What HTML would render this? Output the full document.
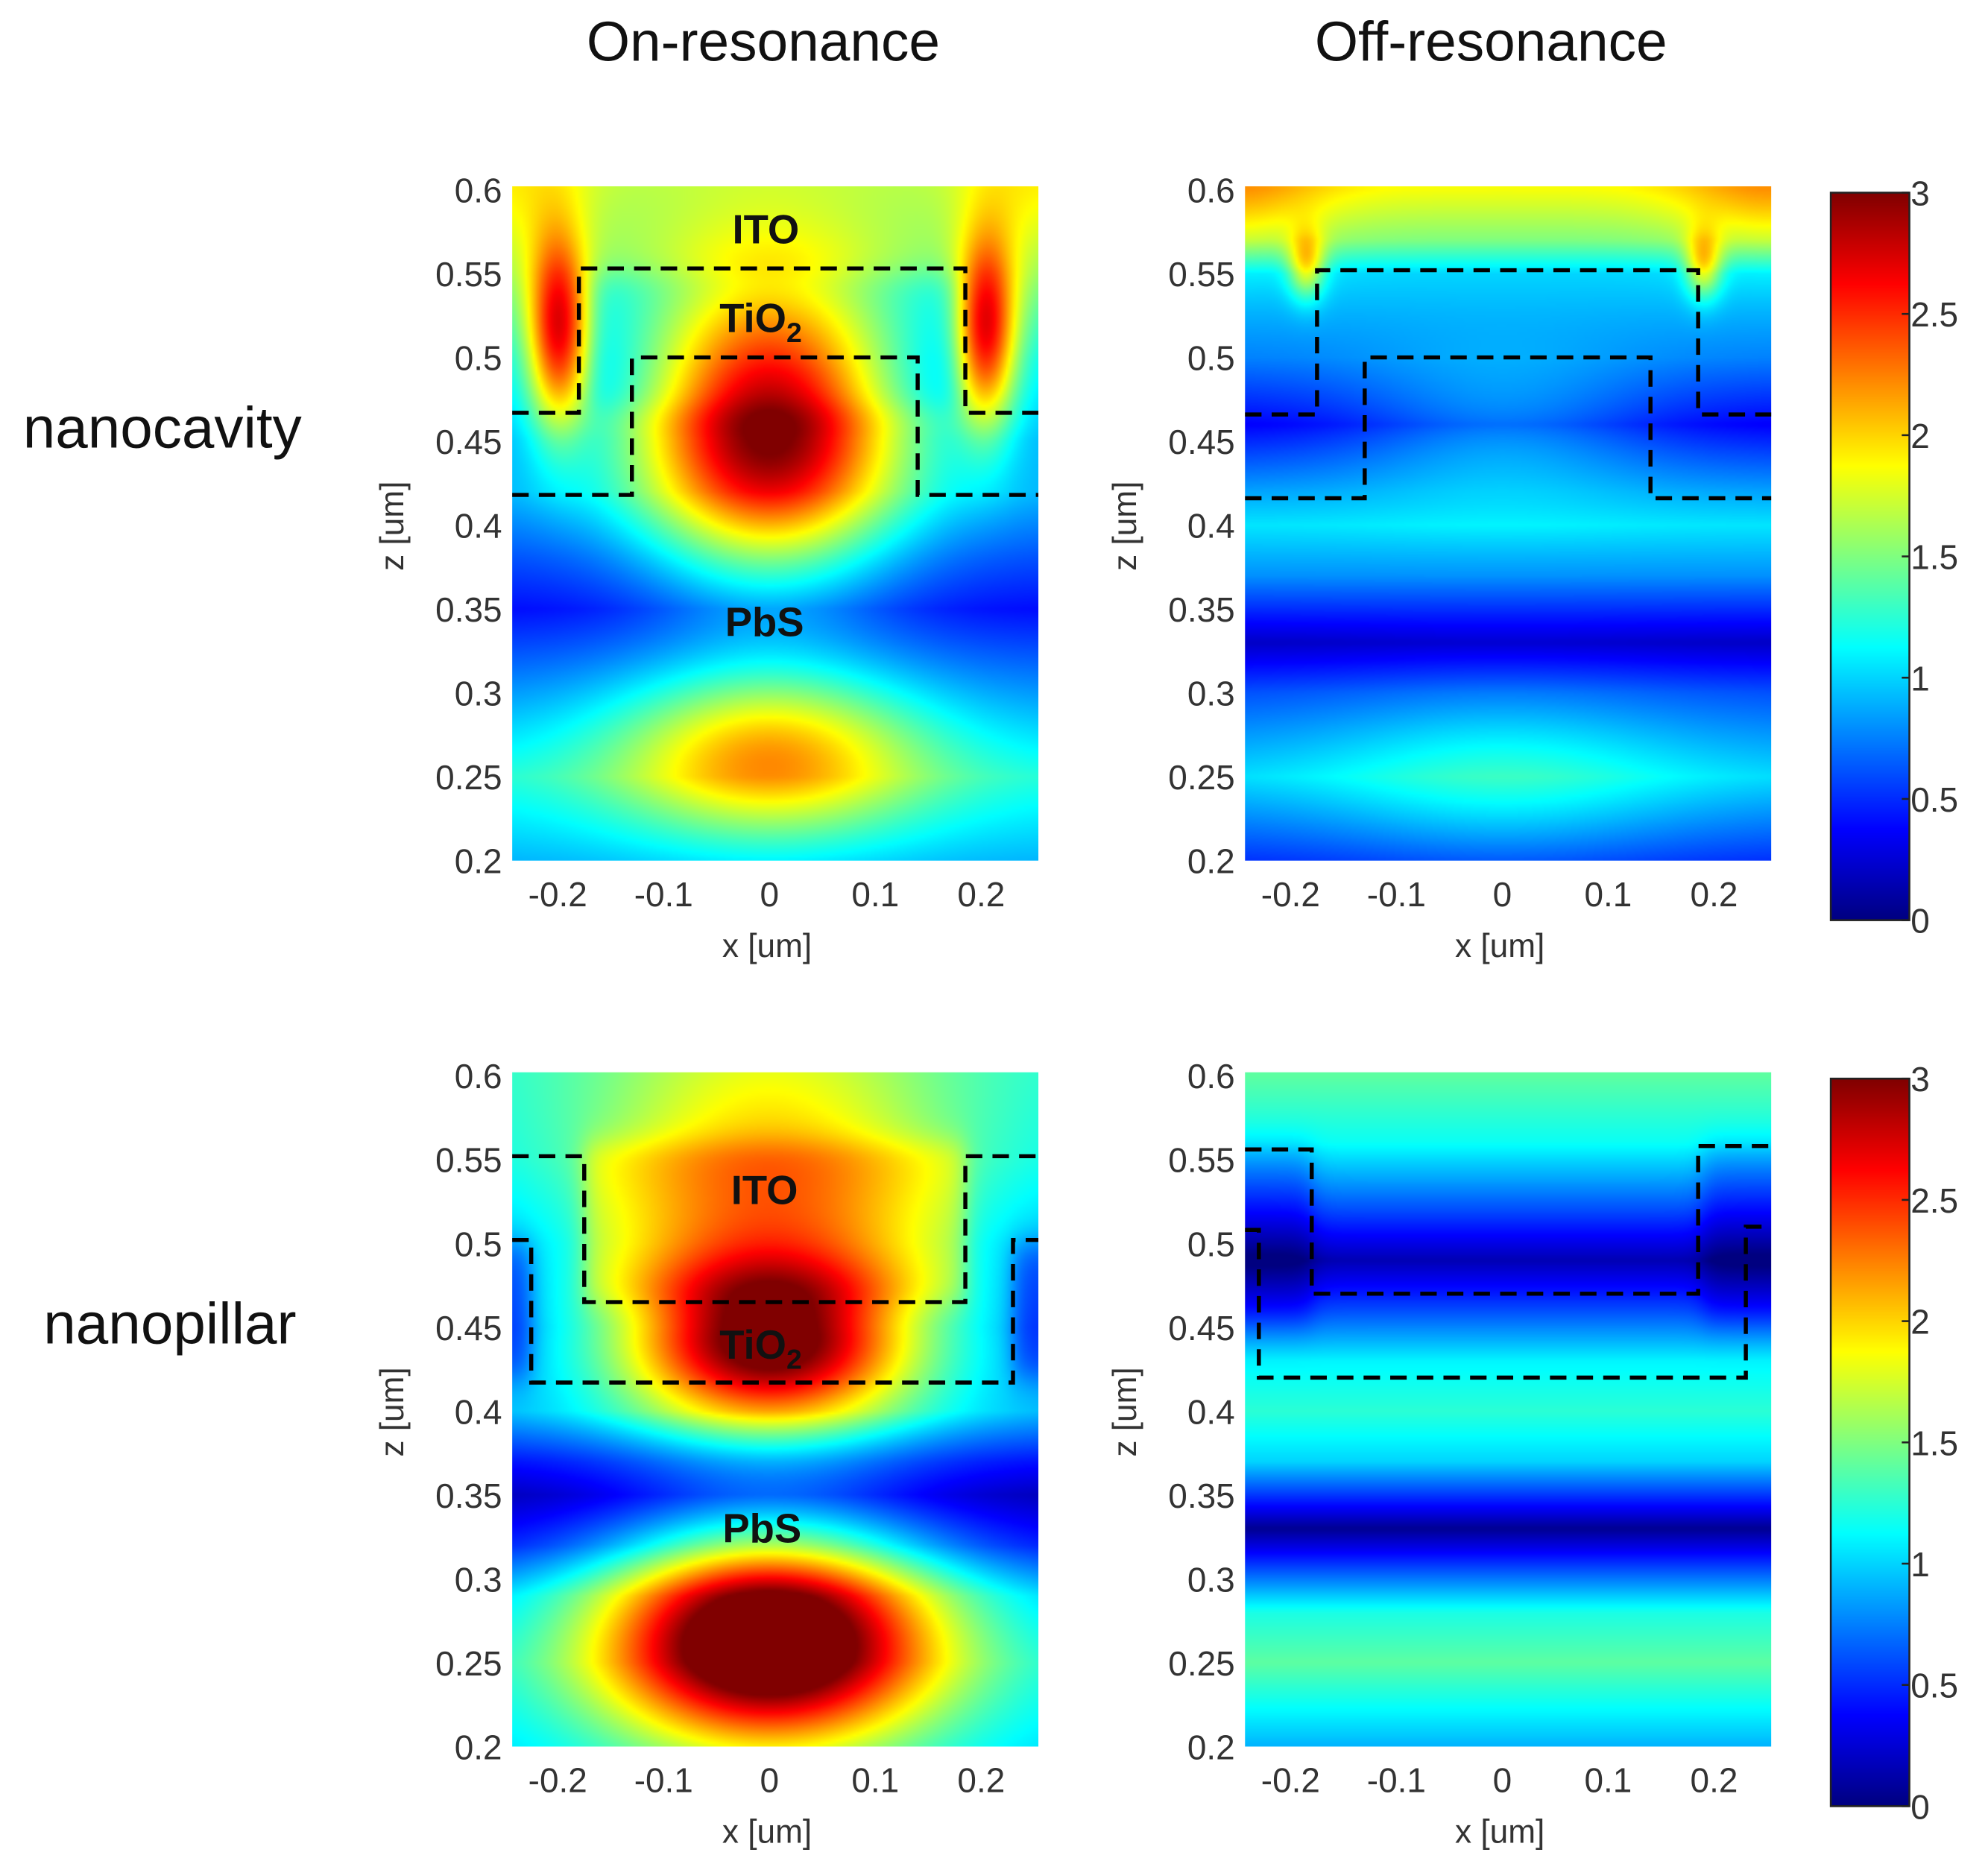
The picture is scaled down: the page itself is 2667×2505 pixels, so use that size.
<!DOCTYPE html>
<html><head><meta charset="utf-8"><style>
html,body{margin:0;padding:0;background:#fff;}
#root{position:absolute;left:0;top:0;width:1568px;height:1473px;transform:scale(1.70089,1.70061);transform-origin:0 0;font-family:"Liberation Sans",sans-serif;}
canvas{position:absolute;}
svg{position:absolute;left:0;top:0;}
</style></head><body>
<div id="root">
<canvas id="h0" width="208" height="266" style="left:404px;top:147px;width:415px;height:532px"></canvas>
<canvas id="h1" width="208" height="266" style="left:982px;top:147px;width:415px;height:532px"></canvas>
<canvas id="h2" width="208" height="266" style="left:404px;top:846px;width:415px;height:532px"></canvas>
<canvas id="h3" width="208" height="266" style="left:982px;top:846px;width:415px;height:532px"></canvas>
<canvas id="cb0" width="10" height="300" style="left:1444px;top:152px;width:62px;height:574px"></canvas>
<canvas id="cb1" width="10" height="300" style="left:1444px;top:851px;width:62px;height:574px"></canvas>
<svg id="ov" width="1568" height="1473" viewBox="0 0 1568 1473">
<text x="602" y="48" font-size="44" text-anchor="middle" fill="#111">On-resonance</text>
<text x="1176" y="48" font-size="44" text-anchor="middle" fill="#111">Off-resonance</text>
<text x="128" y="353" font-size="46" text-anchor="middle" fill="#111">nanocavity</text>
<text x="134" y="1060" font-size="46" text-anchor="middle" fill="#111">nanopillar</text>
<g font-weight="bold" font-size="32" text-anchor="middle" fill="#111">
<text x="604" y="192">ITO</text>
<text x="600" y="262">TiO<tspan font-size="22" dy="8">2</tspan></text>
<text x="603" y="502">PbS</text>
<text x="603" y="950">ITO</text>
<text x="600" y="1072">TiO<tspan font-size="22" dy="8">2</tspan></text>
<text x="601" y="1217">PbS</text>
</g>
</svg>
</div>
<script>
// axis ranges
const xMin=-0.243, xMax=0.254, zMin=0.2, zMax=0.602;
const xTicks=[-0.2,-0.1,0,0.1,0.2];
const xTickLabels=["-0.2","-0.1","0","0.1","0.2"];
const zTicks=[0.6,0.55,0.5,0.45,0.4,0.35,0.3,0.25,0.2];
const zTickLabels=["0.6","0.55","0.5","0.45","0.4","0.35","0.3","0.25","0.2"];
const cbTicks=[0,0.5,1,1.5,2,2.5,3];
const cbTickLabels=["0","0.5","1","1.5","2","2.5","3"];
// panel field data: base profile (z, value), gaussian blobs [amp,cx,cz,sx,sz], boxes [amp,x0,x1,z0,z1]
const baseZ0=[0.6,0.55,0.5,0.45,0.42,0.38,0.35,0.3,0.25,0.2];
const baseV0=[1.6,1.4,1.1,0.9,0.9,0.6,0.4,0.8,1.2,0.9];
const blobs0=[[2.2,0,0.46,0.085,0.06],[1.1,0,0.265,0.1,0.035],[1.4,-0.2,0.515,0.02,0.04],[1.4,0.205,0.515,0.02,0.04],[0.3,-0.24,0.6,0.05,0.04],[0.3,0.25,0.6,0.05,0.04]];
const boxes0=[[-0.35,-0.17,0.18,0.47,0.55]];
const baseZ1=[0.6,0.57,0.55,0.5,0.46,0.42,0.4,0.37,0.33,0.3,0.25,0.2];
const baseV1=[1.85,1.5,1.0,0.75,0.35,0.85,1.05,0.8,0.2,0.6,1.0,0.5];
const blobs1=[[0.35,0,0.46,0.1,0.03],[0.8,-0.185,0.555,0.012,0.014],[0.8,0.19,0.555,0.012,0.014],[0.35,-0.25,0.6,0.06,0.03],[0.35,0.25,0.6,0.06,0.03],[0.3,0,0.25,0.12,0.04]];
const boxes1=[];
const baseZ2=[0.6,0.55,0.5,0.45,0.4,0.37,0.35,0.32,0.29,0.25,0.2];
const baseV2=[1.2,1.1,0.9,0.8,0.9,0.4,0.15,0.4,0.9,1.1,1.0];
const blobs2=[[0.9,0,0.54,0.12,0.07],[2.1,0,0.44,0.095,0.035],[2.6,0,0.265,0.11,0.045]];
const boxes2=[[0.4,-0.175,0.185,0.465,0.56],[-0.4,-0.26,-0.225,0.42,0.5],[-0.4,0.23,0.27,0.42,0.5]];
const baseZ3=[0.6,0.56,0.52,0.49,0.46,0.43,0.4,0.37,0.34,0.33,0.31,0.28,0.25,0.2];
const baseV3=[1.4,1.15,0.6,0.15,0.6,1.1,1.25,1.0,0.3,0.05,0.5,1.2,1.4,0.9];
const blobs3=[];
const boxes3=[[-0.2,-0.3,-0.18,0.45,0.56],[-0.2,0.19,0.3,0.45,0.56]];
// dashed structure outlines (data coords)
const paths0=[[[-0.243,0.467],[-0.18,0.467],[-0.18,0.553],[0.185,0.553],[0.185,0.467],[0.254,0.467]],[[-0.243,0.418],[-0.13,0.418],[-0.13,0.5],[0.14,0.5],[0.14,0.418],[0.254,0.418]]];
const paths1=[[[-0.243,0.466],[-0.175,0.466],[-0.175,0.552],[0.185,0.552],[0.185,0.466],[0.254,0.466]],[[-0.243,0.416],[-0.13,0.416],[-0.13,0.5],[0.14,0.5],[0.14,0.416],[0.254,0.416]]];
const paths2=[[[-0.243,0.552],[-0.175,0.552],[-0.175,0.465],[0.185,0.465],[0.185,0.552],[0.254,0.552]],[[-0.243,0.502],[-0.225,0.502],[-0.225,0.417],[0.23,0.417],[0.23,0.502],[0.254,0.502]]];
const paths3=[[[-0.243,0.556],[-0.18,0.556],[-0.18,0.47],[0.185,0.47],[0.185,0.558],[0.254,0.558]],[[-0.243,0.508],[-0.23,0.508],[-0.23,0.42],[0.23,0.42],[0.23,0.51],[0.254,0.51]]];

const panels=[
 {id:'h0',L:404,T:147,bz:baseZ0,bv:baseV0,bl:blobs0,bx:boxes0,p:paths0},
 {id:'h1',L:982,T:147,bz:baseZ1,bv:baseV1,bl:blobs1,bx:boxes1,p:paths1},
 {id:'h2',L:404,T:846,bz:baseZ2,bv:baseV2,bl:blobs2,bx:boxes2,p:paths2},
 {id:'h3',L:982,T:846,bz:baseZ3,bv:baseV3,bl:blobs3,bx:boxes3,p:paths3}];
const W=415,H=532;
function jet(v){let t=Math.max(0,Math.min(1,v/3));const c=a=>Math.round(255*Math.max(0,Math.min(1,1.5-Math.abs(4*t-a))));return [c(3),c(2),c(1)];}
function base(zs,vs,z){for(let i=0;i<zs.length-1;i++){if(z<=zs[i]&&z>=zs[i+1]){const f=(zs[i]-z)/(zs[i]-zs[i+1]);return vs[i]+(vs[i+1]-vs[i])*f;}}return z>zs[0]?vs[0]:vs[vs.length-1];}
function sig(u){return 1/(1+Math.exp(-u));}
function field(P,x,z){let v=base(P.bz,P.bv,z);
 for(const b of P.bl){v+=b[0]*Math.exp(-((x-b[1])**2/(2*b[3]*b[3])+(z-b[2])**2/(2*b[4]*b[4])));}
 for(const b of P.bx){const s=0.006;v+=b[0]*sig((x-b[1])/s)*sig((b[2]-x)/s)*sig((z-b[3])/s)*sig((b[4]-z)/s);}
 return v;}
const sx=x=>(x-xMin)/(xMax-xMin)*W, sz=z=>(zMax-z)/(zMax-zMin)*H;
const NS='http://www.w3.org/2000/svg', ov=document.getElementById('ov');
function mk(tag,attrs){const e=document.createElementNS(NS,tag);for(const k in attrs)e.setAttribute(k,attrs[k]);ov.appendChild(e);return e;}
for(const P of panels){
 const cv=document.getElementById(P.id),ctx=cv.getContext('2d'),img=ctx.createImageData(cv.width,cv.height);
 for(let j=0;j<cv.height;j++)for(let i=0;i<cv.width;i++){
  const x=xMin+(i+0.5)/cv.width*(xMax-xMin), z=zMax-(j+0.5)/cv.height*(zMax-zMin);
  const c=jet(field(P,x,z)),k=(j*cv.width+i)*4;img.data[k]=c[0];img.data[k+1]=c[1];img.data[k+2]=c[2];img.data[k+3]=255;}
 ctx.putImageData(img,0,0);
 for(const pth of P.p){
  const d=pth.map((q,i)=>(i?'L':'M')+(P.L+sx(q[0])).toFixed(1)+' '+(P.T+sz(q[1])).toFixed(1)).join(' ');
  const e=mk('path',{d:d,fill:'none',stroke:'#000','stroke-width':3.2,'stroke-dasharray':'13 8'});
  
  
 }
 xTicks.forEach((t,i)=>{const e=mk('text',{x:P.L+sx(t),y:P.T+H+36,'font-size':27,'text-anchor':'middle',fill:'#333'});e.textContent=xTickLabels[i];
  
  });
 zTicks.forEach((t,i)=>{const e=mk('text',{x:P.L-8,y:P.T+sz(t)+10,'font-size':27,'text-anchor':'end',fill:'#333'});e.textContent=zTickLabels[i];
  
  });
 const xl=mk('text',{x:P.L+201,y:P.T+H+76,'font-size':26,'text-anchor':'middle',fill:'#333'});xl.textContent='x [um]';
 
 
 const yl=mk('text',{x:0,y:0,'font-size':26,'text-anchor':'middle',fill:'#333',transform:`translate(${P.L-86},${P.T+268}) rotate(-90)`});yl.textContent='z [um]';
 
 
}
for(const [id,T] of [['cb0',152],['cb1',851]]){
 const cv=document.getElementById(id),ctx=cv.getContext('2d');
 for(let j=0;j<300;j++){const c=jet(3*(1-(j+0.5)/300));ctx.fillStyle=`rgb(${c[0]},${c[1]},${c[2]})`;ctx.fillRect(0,j,10,1);}
 const r=mk('rect',{x:1444,y:T,width:62,height:574,fill:'none',stroke:'#222','stroke-width':1.5});
 
 
 cbTicks.forEach((t,i)=>{const y=T+574-t/3*574;
  mk('line',{x1:1500,x2:1506,y1:y,y2:y,stroke:'#222','stroke-width':1.5});
  const e=mk('text',{x:1507,y:y+10,'font-size':27,fill:'#333'});e.textContent=cbTickLabels[i];
  
  });
}
</script>
</body></html>
